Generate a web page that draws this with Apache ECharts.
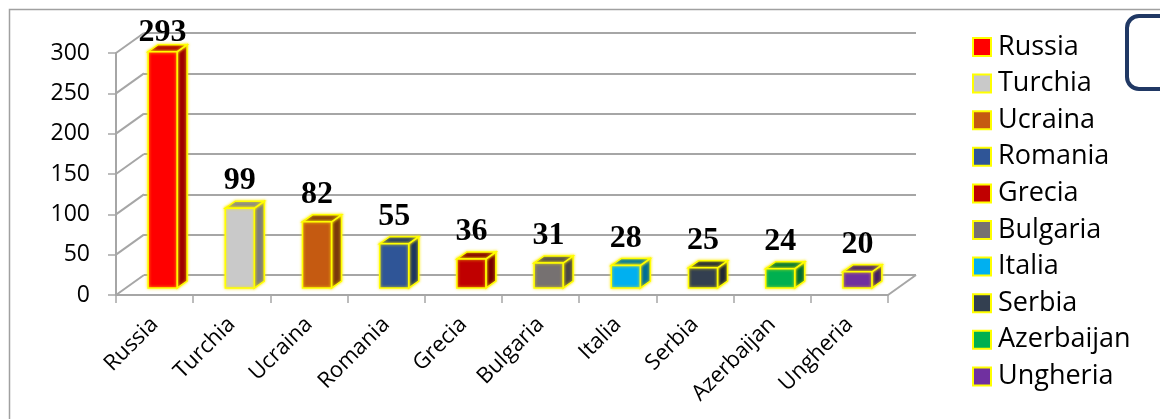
<!DOCTYPE html>
<html>
<head>
<meta charset="utf-8">
<script src="https://cdn.jsdelivr.net/npm/echarts@6/dist/echarts.min.js"></script>
<style>html,body{margin:0;padding:0;background:#fff;}#c{width:1160px;height:419px;}</style>
</head>
<body>
<div id="c"></div>
<script>
const categories = ['Russia','Turchia','Ucraina','Romania','Grecia','Bulgaria','Italia','Serbia','Azerbaijan','Ungheria'];
const values = [293, 99, 82, 55, 36, 31, 28, 25, 24, 20];
const palette = ['#ff0000','#c9c9c9','#c55a11','#2f5597','#c00000','#767171','#00b0f0','#333f50','#00b050','#7030a0'];
const yTicks = [0, 50, 100, 150, 200, 250, 300];

const GRID = '#a6a6a6';
const DEPTH_X = 28, DEPTH_Y = -20;

function darken(hex, f) {
  const n = parseInt(hex.slice(1), 16);
  const r = Math.round(((n >> 16) & 255) * f), g = Math.round(((n >> 8) & 255) * f), b = Math.round((n & 255) * f);
  return 'rgb(' + r + ',' + g + ',' + b + ')';
}

function barRender(params, api) {
  const ci = api.value(0), v = api.value(1);
  const color = palette[ci];
  const base = api.coord([ci, 0]);
  const top = api.coord([ci, v]);
  const bw = api.size([1, 0])[0];
  const w = bw * 0.375;
  const fx = 8, fy = -7, dx = 10, dy = -7;
  const x0 = base[0] + fx - w / 2, x1 = x0 + w;
  const yb = base[1] + fy, yt = top[1] + fy;
  const stroke = { stroke: '#ffff00', lineWidth: 1.5, shadowBlur: 3, shadowColor: 'rgba(255,235,0,0.9)' };
  const labelBottom = Math.max(yt + dy - 11, 42);
  return {
    type: 'group',
    children: [
      { type: 'polygon', shape: { points: [[x1, yb], [x1, yt], [x1 + dx, yt + dy], [x1 + dx, yb + dy]] },
        style: Object.assign({ fill: darken(color, 0.62) }, stroke) },
      { type: 'polygon', shape: { points: [[x0, yt], [x1, yt], [x1 + dx, yt + dy], [x0 + dx, yt + dy]] },
        style: Object.assign({ fill: darken(color, 0.68) }, stroke) },
      { type: 'rect', shape: { x: x0, y: yt, width: w, height: yb - yt },
        style: Object.assign({ fill: color }, stroke) },
      { type: 'text', x: x0 + w / 2, y: labelBottom + 7,
        style: { text: String(v), fill: '#000', font: 'bold 32px "Liberation Serif", "Times New Roman", serif',
                 align: 'center', verticalAlign: 'bottom' } }
    ]
  };
}

function frameRender(params, api) {
  const v = api.value(1);
  const p = api.coord([0, v]);
  const bw = api.size([1, 0])[0];
  const x0 = p[0] - bw / 2;
  const children = [
    { type: 'line', shape: { x1: x0, y1: p[1], x2: x0 + DEPTH_X, y2: p[1] + DEPTH_Y },
      style: { stroke: GRID, lineWidth: 2 } }
  ];
  if (v === 0) {
    const xe = x0 + bw * categories.length;
    children.push({ type: 'line', shape: { x1: xe, y1: p[1], x2: xe + DEPTH_X, y2: p[1] + DEPTH_Y },
      style: { stroke: GRID, lineWidth: 2 } });
  }
  return { type: 'group', children: children };
}

const series = [
  { type: 'custom', name: '_frame', xAxisIndex: 0, yAxisIndex: 0, z: 1, silent: true,
    renderItem: frameRender, data: yTicks.map(t => [0, t]), encode: { x: 0, y: 1 } }
];
categories.forEach((c, i) => {
  series.push({ type: 'custom', name: c, xAxisIndex: 0, yAxisIndex: 0, z: 3,
    itemStyle: { color: palette[i] }, renderItem: barRender,
    data: [[i, values[i]]], encode: { x: 0, y: 1 } });
});

const chart = echarts.init(document.getElementById('c'), null, { renderer: 'canvas' });
chart.setOption({
  animation: false,
  backgroundColor: '#fff',
  grid: [
    { left: 116, right: 272, top: 53, bottom: 124 },
    { left: 116 + DEPTH_X, right: 272 - DEPTH_X, top: 53 + DEPTH_Y, bottom: 124 - DEPTH_Y }
  ],
  xAxis: [
    { type: 'category', gridIndex: 0, data: categories, boundaryGap: true,
      axisLine: { show: true, lineStyle: { color: GRID, width: 2 } },
      axisTick: { show: true, length: 8, lineStyle: { color: GRID, width: 1.5 } },
      axisLabel: { rotate: 45, margin: 26, fontSize: 22, fontFamily: 'Open Sans', color: '#000' } },
    { type: 'category', gridIndex: 1, data: categories, show: false }
  ],
  yAxis: [
    { type: 'value', gridIndex: 0, min: 0, max: 300, interval: 50,
      axisLine: { show: true, lineStyle: { color: GRID, width: 2 } },
      axisTick: { show: true, length: 8, lineStyle: { color: GRID, width: 1.5 } },
      splitLine: { show: false },
      axisLabel: { margin: 26, fontSize: 23, fontFamily: 'Open Sans', color: '#000' } },
    { type: 'value', gridIndex: 1, min: 0, max: 300, interval: 50,
      axisLine: { show: false }, axisTick: { show: false }, axisLabel: { show: false },
      splitLine: { show: true, lineStyle: { color: GRID, width: 2 } } }
  ],
  legend: {
    orient: 'vertical', left: 972, top: 32, padding: 0,
    itemWidth: 18, itemHeight: 18, itemGap: 6.6,
    textStyle: { fontSize: 27, lineHeight: 30, fontFamily: 'Open Sans', color: '#000', padding: [0, 0, 0, 2] },
    data: categories.map((c, i) => ({ name: c, icon: 'rect',
      itemStyle: { color: palette[i], borderColor: '#ffff00', borderWidth: 2 } }))
  },
  graphic: [
    { type: 'rect', shape: { x: 9.5, y: 9.5, width: 1200, height: 500 },
      style: { fill: 'none', stroke: '#a0a0a0', lineWidth: 1.5 }, z: 0, silent: true },
    { type: 'rect', shape: { x: 1127, y: 16, width: 80, height: 73, r: 12 },
      style: { fill: 'none', stroke: '#203864', lineWidth: 4 }, silent: true }
  ],
  series: series
});
</script>
</body>
</html>
